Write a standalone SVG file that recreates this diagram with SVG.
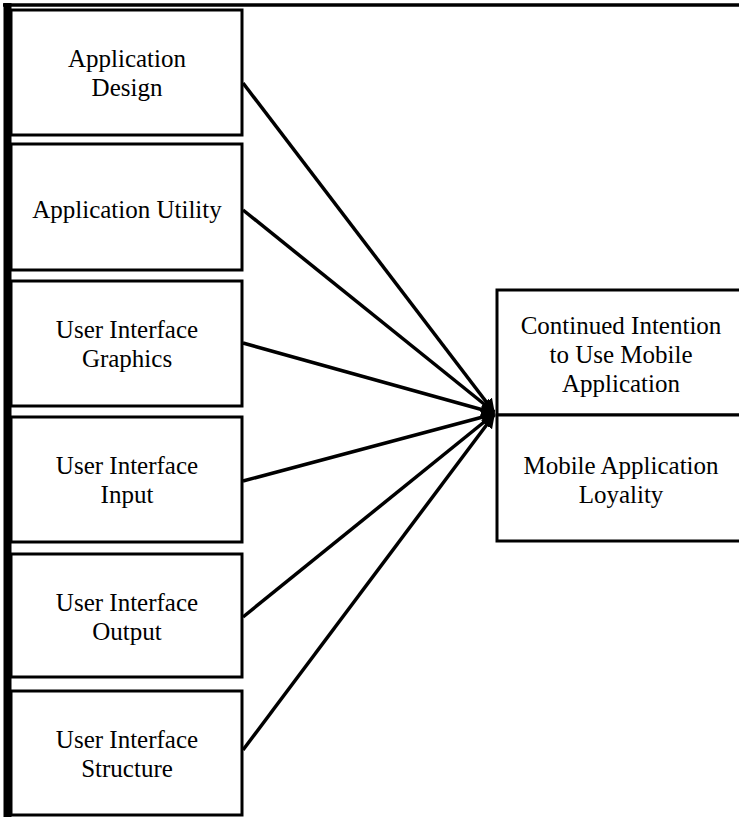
<svg xmlns="http://www.w3.org/2000/svg" width="739" height="817" viewBox="0 0 739 817">
<style>
.box{fill:#fff;stroke:#000;stroke-width:3}
.t{font-family:"Liberation Serif","Times New Roman",serif;font-size:25px;fill:#000;text-anchor:middle}
.c{stroke:#000;stroke-width:3.5;fill:none;marker-end:url(#ah)}
</style>
<defs>
<marker id="ah" viewBox="0 0 10 10" refX="9" refY="5" markerWidth="4" markerHeight="4" orient="auto" markerUnits="strokeWidth">
<path d="M0,0 L10,5 L0,10 z" fill="#000"/>
</marker>
</defs>
<rect width="739" height="817" fill="#fff"/>
<g id="frame">
<line x1="3" y1="5" x2="739" y2="5" stroke="#000" stroke-width="3.5"/>
<line x1="7.5" y1="3" x2="7.5" y2="817" stroke="#000" stroke-width="8"/>
</g>
<g id="n1"><rect class="box" x="11" y="10" width="231" height="125"/><text class="t" x="127" y="67">Application</text><text class="t" x="127" y="96">Design</text></g>
<g id="n2"><rect class="box" x="11" y="144" width="231" height="126"/><text class="t" x="127" y="218">Application Utility</text></g>
<g id="n3"><rect class="box" x="11" y="281" width="231" height="125"/><text class="t" x="127" y="338">User Interface</text><text class="t" x="127" y="367">Graphics</text></g>
<g id="n4"><rect class="box" x="11" y="417" width="231" height="125"/><text class="t" x="127" y="474">User Interface</text><text class="t" x="127" y="503">Input</text></g>
<g id="n5"><rect class="box" x="11" y="554" width="231" height="123"/><text class="t" x="127" y="611">User Interface</text><text class="t" x="127" y="640">Output</text></g>
<g id="n6"><rect class="box" x="11" y="691" width="231" height="124"/><text class="t" x="127" y="748">User Interface</text><text class="t" x="127" y="777">Structure</text></g>
<g id="n7"><rect class="box" x="497" y="290" width="250" height="125"/><text class="t" x="621" y="334">Continued Intention</text><text class="t" x="621" y="363">to Use Mobile</text><text class="t" x="621" y="392">Application</text></g>
<g id="n8"><rect class="box" x="497" y="415" width="250" height="126"/><text class="t" x="621" y="474">Mobile Application</text><text class="t" x="621" y="503">Loyality</text></g>
<g id="connectors">
<line class="c" x1="243" y1="83" x2="494" y2="412"/>
<line class="c" x1="243" y1="210" x2="494" y2="412"/>
<line class="c" x1="243" y1="343" x2="494" y2="413"/>
<line class="c" x1="243" y1="481" x2="494" y2="414"/>
<line class="c" x1="243" y1="617" x2="494" y2="414"/>
<line class="c" x1="243" y1="750" x2="494" y2="415"/>
</g>
</svg>
